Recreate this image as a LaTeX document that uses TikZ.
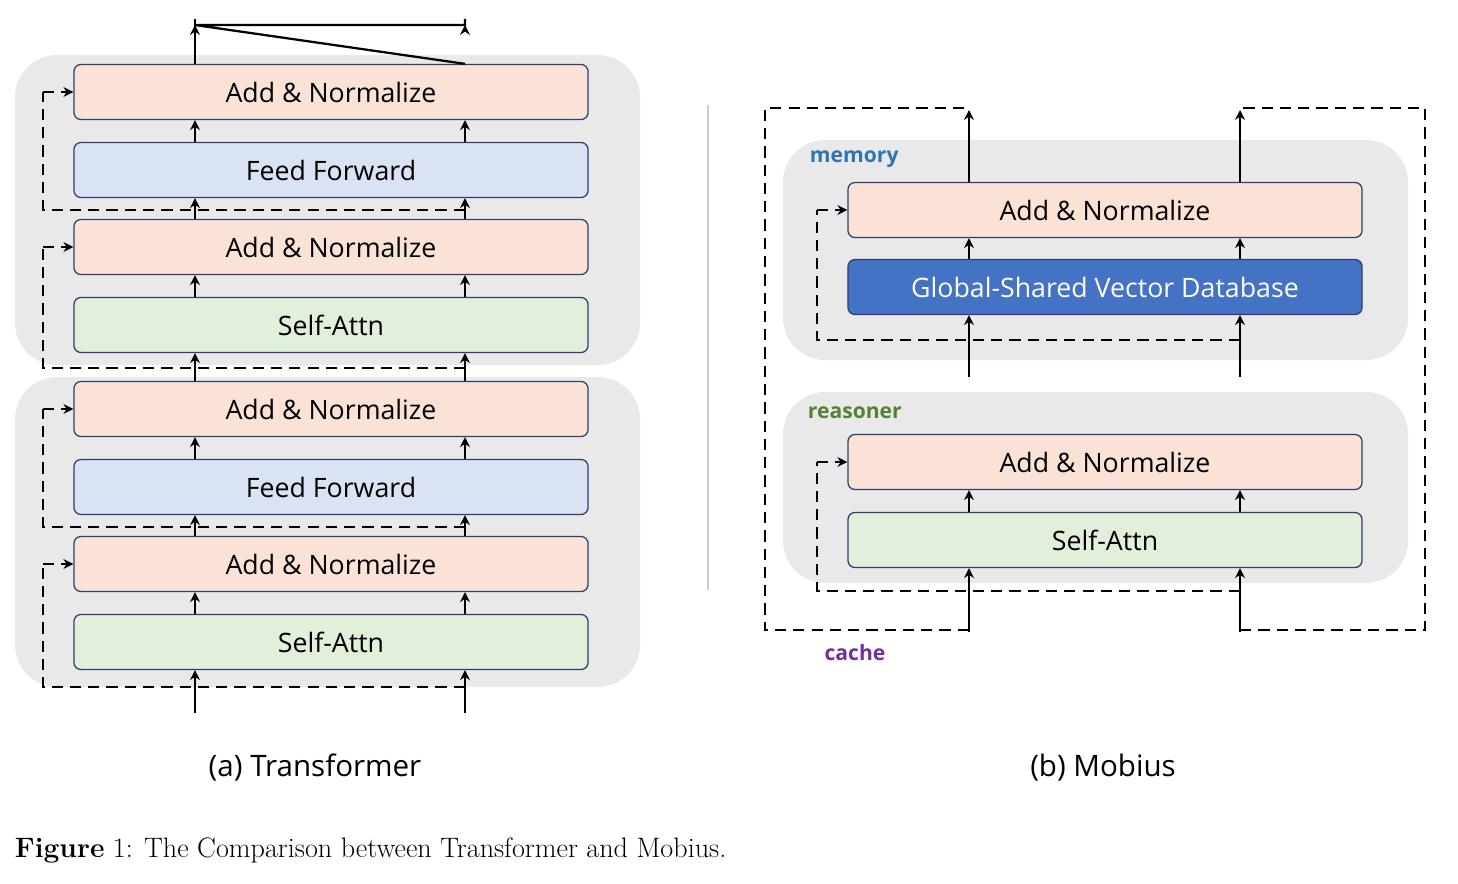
\documentclass[tikz,border=0pt]{standalone}
\usepackage{fontspec}
\setsansfont{Open Sans}
\usetikzlibrary{arrows.meta,positioning}
\definecolor{addc}{HTML}{FAE3D6}
\definecolor{ffc}{HTML}{DAE3F3}
\definecolor{sac}{HTML}{E2EFDA}
\definecolor{dbc}{HTML}{4472C4}
\definecolor{edgec}{HTML}{2F3E6E}
\definecolor{bgc}{HTML}{E9E9E9}
\definecolor{memc}{HTML}{2E75B6}
\definecolor{reac}{HTML}{548235}
\definecolor{cachec}{HTML}{7030A0}
\tikzset{
  blk/.style={draw=edgec, line width=0.9pt, rounded corners=5pt, minimum width=12.85cm, minimum height=1.375cm, font=\sffamily\fontsize{19}{22}\selectfont, inner sep=0pt},
  addbox/.style={blk, fill=addc},
  ffbox/.style={blk, fill=ffc},
  sabox/.style={blk, fill=sac},
  dbbox/.style={blk, fill=dbc, text=white},
  grp/.style={fill=bgc, rounded corners=30pt},
  arr/.style={line width=1.6pt, -{Stealth[length=7pt,width=7pt]}},
  res/.style={line width=1.6pt, dash pattern=on 8pt off 5pt},
  resarr/.style={res, -{Stealth[length=7pt,width=7pt]}}
}
\begin{document}
\begin{tikzpicture}[x=0.025cm,y=-0.025cm]
  \useasboundingbox (0,0) rectangle (1458,883);
  % background groups
  \fill[grp] (15,55) rectangle (640,365);
  \fill[grp] (15,377) rectangle (640,687);
  \fill[grp] (783,140) rectangle (1408,360);
  \fill[grp] (783,392) rectangle (1408,583);
  \draw[gray!40, line width=1pt] (708,105) -- (708,590);

  % Transformer column
  \node[addbox] (an4) at (331,92) {Add \& Normalize};
  \node[ffbox]  (ff2) at (331,170) {Feed Forward};
  \node[addbox] (an3) at (331,247) {Add \& Normalize};
  \node[sabox]  (sa2) at (331,325) {Self-Attn};
  \node[addbox] (an2) at (331,409) {Add \& Normalize};
  \node[ffbox]  (ff1) at (331,487) {Feed Forward};
  \node[addbox] (an1) at (331,564) {Add \& Normalize};
  \node[sabox]  (sa1) at (331,642) {Self-Attn};
  \coordinate (l1) at (195,0);
  \coordinate (l2) at (465,0);
  \coordinate (lin1) at (195,713);
  \coordinate (lin2) at (465,713);
  \coordinate (lout1) at (195,25);
  \coordinate (lout2) at (465,25);

  \foreach \c in {l1,l2}{
    \draw[arr] (sa1.south -| \c) ++(0,43) -- (sa1.south -| \c);
    \draw[arr] (sa1.north -| \c) -- (an1.south -| \c);
    \draw[arr] (an1.north -| \c) -- (ff1.south -| \c);
    \draw[arr] (ff1.north -| \c) -- (an2.south -| \c);
    \draw[arr] (an2.north -| \c) -- (sa2.south -| \c);
    \draw[arr] (sa2.north -| \c) -- (an3.south -| \c);
    \draw[arr] (an3.north -| \c) -- (ff2.south -| \c);
    \draw[arr] (ff2.north -| \c) -- (an4.south -| \c);
    \draw[arr] (an4.north -| \c) -- (lout1 |- 0,25) -| (\c |- 0,25);
  }
  % residual paths
  \foreach \b/\t/\y in {sa1/an1/687, an1/an2/527, sa2/an3/368, an3/an4/210}{
    \draw[res] (465,\y) -- (43,\y) -- (43,\y |- \t.west) ++(0,0);
    \draw[resarr] (43,0 |- \t.west) -- (\t.west);
  }
  \foreach \y/\t in {687/564, 527/409, 368/247, 210/92}{
    \draw[res] (465,\y) -- (43,\y) -- (43,\t);
  }

  % Mobius column
  \node[addbox] (man) at (1105,210) {Add \& Normalize};
  \node[dbbox]  (db)  at (1105,287) {Global-Shared Vector Database};
  \node[addbox] (ran) at (1105,462) {Add \& Normalize};
  \node[sabox]  (rsa) at (1105,540) {Self-Attn};
  \node[font=\sffamily\bfseries\fontsize{15}{18}\selectfont, text=memc, anchor=west] (memlbl) at (805,159) {memory};
  \node[font=\sffamily\bfseries\fontsize{15}{18}\selectfont, text=reac, anchor=west] (realbl) at (803,413) {reasoner};
  \node[font=\sffamily\bfseries\fontsize{15}{18}\selectfont, text=cachec] (cachelbl) at (855,653) {cache};
  \coordinate (r1) at (969,0);
  \coordinate (r2) at (1240,0);

  \foreach \c in {r1,r2}{
    \draw[arr] (\c |- 0,632) -- (rsa.south -| \c);
    \draw[arr] (rsa.north -| \c) -- (ran.south -| \c);
    \draw[arr] (ran.north -| \c) ++(0,-57) -- (db.south -| \c);
    \draw[arr] (db.north -| \c) -- (man.south -| \c);
    \draw[arr] (man.north -| \c) -- (\c |- 0,110);
  }
  % inner residuals
  \draw[res] (1240,591) -- (817,591) -- (817,462);
  \draw[resarr] (817,462) -- (ran.west);
  \draw[res] (1240,340) -- (817,340) -- (817,210);
  \draw[resarr] (817,210) -- (man.west);
  % cache loops
  \draw[res] (969,630) -- (765,630) -- (765,108) -- (969,108);
  \draw[res] (1240,630) -- (1425,630) -- (1425,108) -- (1240,108);

  % captions
  \node[font=\sffamily\fontsize{21}{25}\selectfont] (capa) at (315,768) {(a) Transformer};
  \node[font=\sffamily\fontsize{21}{25}\selectfont] (capb) at (1103,768) {(b) Mobius};
  \node[font=\fontsize{20}{24}\selectfont, anchor=west] (fig) at (10,850) {\textbf{Figure} 1: The Comparison between Transformer and Mobius.};
\end{tikzpicture}
\end{document}
